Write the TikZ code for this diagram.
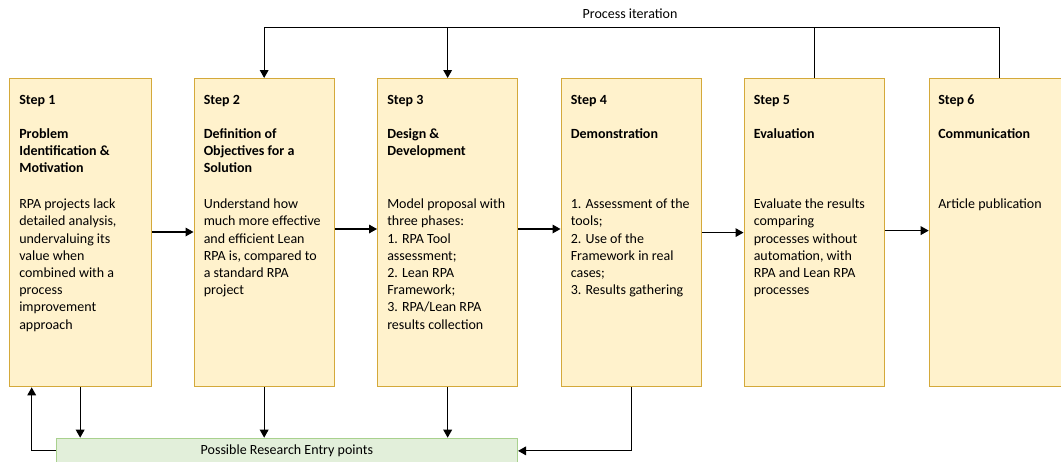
\documentclass[tikz,border=0pt]{standalone}
\usepackage{fontspec}
\setmainfont{Carlito}
\usetikzlibrary{arrows.meta}
\definecolor{stepfill}{HTML}{FFF2CC}
\definecolor{stepdraw}{HTML}{D4A93A}
\definecolor{entryfill}{HTML}{E2EFDA}
\definecolor{entrydraw}{HTML}{A9D18E}
% a block of lines whose baseline is that of its first line
\newcommand{\toplines}[1]{\begin{tabular}[t]{@{}l@{}}#1\end{tabular}}
\begin{document}
\begin{tikzpicture}[x=0.75pt,y=-0.75pt,
  stepbox/.style={draw=stepdraw,fill=stepfill,line width=1pt,anchor=north west,
    minimum width=105pt,minimum height=231pt,inner sep=0pt},
  steptxt/.style={anchor=base west,inner sep=0pt,
    font=\fontsize{10.5}{12.9}\selectfont},
  stephead/.style={steptxt,font=\fontsize{10.5}{12.9}\selectfont\bfseries},
  arr/.style={-{Triangle[length=6pt,width=6.5pt]},line width=0.9pt},
  link/.style={line width=0.9pt}]

\useasboundingbox (0,0) rectangle (1061,461);

% the six process steps
\node[stepbox,minimum width=106.5pt] (s1) at (8.5,78) {};
\node[stepbox] (s2) at (193.5,78) {};
\node[stepbox] (s3) at (377,78) {};
\node[stepbox] (s4) at (560.5,78) {};
\node[stepbox] (s5) at (743.5,78) {};
\node[stepbox] (s6) at (928.7,78) {};

% step 1
\node[stephead] (s1l) at (19,104) {Step 1};
\node[stephead] (s1t) at (19,138.4) {\toplines{Problem\\Identification \&\\Motivation}};
\node[steptxt] (s1b) at (19,208.7) {\toplines{RPA projects lack\\detailed analysis,\\undervaluing its\\value when\\combined with a\\process\\improvement\\approach}};
% step 2
\node[stephead] (s2l) at (203.5,104) {Step 2};
\node[stephead] (s2t) at (203.5,138.4) {\toplines{Definition of\\Objectives for a\\Solution}};
\node[steptxt] (s2b) at (203.5,208.7) {\toplines{Understand how\\much more effective\\and efficient Lean\\RPA is, compared to\\a standard RPA\\project}};
% step 3
\node[stephead] (s3l) at (387,104) {Step 3};
\node[stephead] (s3t) at (387,138.4) {\toplines{Design \&\\Development}};
\node[steptxt] (s3b) at (387,208.7) {\toplines{Model proposal with\\three phases:\\1. RPA Tool\\assessment;\\2. Lean RPA\\Framework;\\3. RPA/Lean RPA\\results collection}};
% step 4
\node[stephead] (s4l) at (570.5,104) {Step 4};
\node[stephead] (s4t) at (570.5,138.4) {Demonstration};
\node[steptxt] (s4b) at (570.5,208.7) {\toplines{1. Assessment of the\\tools;\\2. Use of the\\Framework in real\\cases;\\3. Results gathering}};
% step 5
\node[stephead] (s5l) at (753.5,104) {Step 5};
\node[stephead] (s5t) at (753.5,138.4) {Evaluation};
\node[steptxt] (s5b) at (753.5,208.7) {\toplines{Evaluate the results\\comparing\\processes without\\automation, with\\RPA and Lean RPA\\processes}};
% step 6
\node[stephead] (s6l) at (938,104) {Step 6};
\node[stephead] (s6t) at (938,138.4) {Communication};
\node[steptxt] (s6b) at (938,208.7) {Article publication};

% forward flow between steps
\coordinate (h12) at (0,232);
\coordinate (h23) at (0,229);
\coordinate (h34) at (0,229);
\coordinate (h45) at (0,232.6);
\coordinate (h56) at (0,230.6);
\draw[arr] (s1.east |- h12) -- (s2.west |- h12);
\draw[arr] (s2.east |- h23) -- (s3.west |- h23);
\draw[arr] (s3.east |- h34) -- (s4.west |- h34);
\draw[arr] (s4.east |- h45) -- (s5.west |- h45);
\draw[arr] (s5.east |- h56) -- (s6.west |- h56);

% process iteration loop
\coordinate (it) at (0,27.5);
\node[font=\fontsize{10.5}{12.9}\selectfont,inner sep=0pt] (iter) at (630,14) {Process iteration};
\draw[link] (s6.north) -- (s6.north |- it) -- (s2.north |- it);
\draw[link] (s5.north) -- (s5.north |- it);
\draw[arr] (s2.north |- it) -- (s2.north);
\draw[arr] (s3.north |- it) -- (s3.north);

% research entry points
\node[draw=entrydraw,fill=entryfill,line width=1pt,anchor=north west,inner sep=0pt,
  minimum width=345.75pt,minimum height=18.75pt,
  font=\fontsize{10.5}{12.9}\selectfont] (entry) at (55.7,437.7) {Possible Research Entry points};
\coordinate (back) at (31.7,0);
\draw[arr] (s1.south) -- (s1.south |- entry.north);
\draw[arr] (s2.south) -- (s2.south |- entry.north);
\draw[arr] (s3.south) -- (s3.south |- entry.north);
\draw[arr] (s4.south) |- (entry.east);
\draw[arr] (entry.west) -| (s1.south -| back);
\end{tikzpicture}
\end{document}
